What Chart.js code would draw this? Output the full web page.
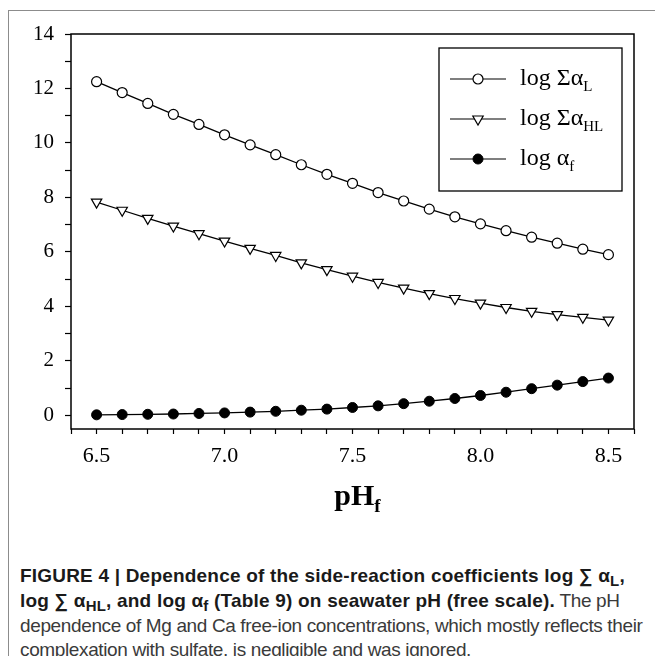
<!DOCTYPE html>
<html>
<head>
<meta charset="utf-8">
<script src="https://cdn.jsdelivr.net/npm/chart.js@4.4.0/dist/chart.umd.min.js"></script>
<style>
  html, body { margin: 0; padding: 0; background: #fff; }
  body { width: 655px; height: 656px; position: relative; overflow: hidden; }
  #frame { position: absolute; left: 8px; top: 10px; width: 700px; height: 700px;
           border-left: 1.5px solid #8c8c8c; border-top: 1.5px solid #8c8c8c; }
  #chart-wrap { position: absolute; left: 0; top: 0; width: 655px; height: 530px; }
  #xtitle { position: absolute; left: 71px; width: 573px; top: 478px; text-align: center;
            font: bold 30px "Liberation Serif"; color: #000; }
  #xtitle .sub { font-size: 19px; position: relative; top: 7px; }
  #caption { position: absolute; left: 20px; top: 564px; width: 660px; white-space: nowrap;
             font: 19px/24px "Liberation Sans"; color: #3a3a3a; letter-spacing: -0.37px; }
  #caption b { color: #1a1a1a; letter-spacing: 0.2px; }
  #caption .sub { font-size: 15px; position: relative; top: 4px; }
</style>
</head>
<body>
<div id="frame"></div>
<div id="chart-wrap"><canvas id="chart" width="655" height="530"></canvas></div>
<div id="xtitle">pH<span class="sub">f</span></div>
<div id="caption"><b>FIGURE 4 | Dependence of the side-reaction coefficients log ∑ α<span class="sub">L</span>,</b><br><b>log ∑ α<span class="sub">HL</span>, and log α<span class="sub">f</span> (Table 9) on seawater pH (free scale).</b> The pH<br>dependence of Mg and Ca free-ion concentrations, which mostly reflects their<br>complexation with sulfate, is negligible and was ignored.</div>
<script>
// 数据
const phValues = [6.5, 6.6, 6.7, 6.8, 6.9, 7.0, 7.1, 7.2, 7.3, 7.4, 7.5,
                  7.6, 7.7, 7.8, 7.9, 8.0, 8.1, 8.2, 8.3, 8.4, 8.5];
const logSumAlphaL = [12.25, 11.85, 11.45, 11.05, 10.68, 10.3, 9.93, 9.57, 9.2, 8.85, 8.52,
                      8.18, 7.87, 7.57, 7.29, 7.03, 6.78, 6.54, 6.32, 6.1, 5.9];
const logSumAlphaHL = [7.83, 7.53, 7.23, 6.95, 6.67, 6.4, 6.13, 5.87, 5.6, 5.35, 5.11,
                       4.88, 4.67, 4.47, 4.29, 4.12, 3.96, 3.82, 3.7, 3.6, 3.5];
const logAlphaF = [0.02, 0.03, 0.04, 0.05, 0.07, 0.09, 0.12, 0.15, 0.19, 0.23, 0.29,
                   0.35, 0.43, 0.52, 0.62, 0.73, 0.85, 0.98, 1.11, 1.24, 1.37];
const xTickLabels = ['6.5', '7.0', '7.5', '8.0', '8.5'];
const yTickLabels = ['0', '2', '4', '6', '8', '10', '12', '14'];

// 图例文字 (主文字 + 下标)
const legendText = [['log Σα', 'L'], ['log Σα', 'HL'], ['log α', 'f']];

function toPoints(arr) {
  return phValues.map((x, i) => ({ x: x, y: arr[i] }));
}

const serif = '"Liberation Serif", "Times New Roman", serif';

// 绘图区边框
const framePlugin = {
  id: 'frame',
  beforeDatasetsDraw(chart) {
    const a = chart.chartArea, ctx = chart.ctx;
    ctx.save();
    ctx.strokeStyle = '#000';
    ctx.lineWidth = 1.5;
    ctx.strokeRect(a.left, a.top, a.right - a.left, a.bottom - a.top);
    ctx.restore();
  }
};

function drawMarker(ctx, ds, x, y) {
  ctx.save();
  ctx.fillStyle = ds.pointBackgroundColor;
  ctx.strokeStyle = ds.pointBorderColor;
  ctx.lineWidth = ds.pointBorderWidth;
  ctx.beginPath();
  if (ds.pointStyle === 'triangle') {
    const r = ds.pointRadius;
    ctx.moveTo(x - r * 0.866, y - r * 0.5);
    ctx.lineTo(x + r * 0.866, y - r * 0.5);
    ctx.lineTo(x, y + r);
    ctx.closePath();
  } else {
    ctx.arc(x, y, ds.pointRadius, 0, Math.PI * 2);
  }
  ctx.fill();
  ctx.stroke();
  ctx.restore();
}

// 自定义图例 (带下标)
const legendPlugin = {
  id: 'subLegend',
  afterDraw(chart) {
    const a = chart.chartArea, ctx = chart.ctx;
    const boxW = 183, boxH = 143;
    const bx = a.right - 12 - boxW, by = a.top + 14;
    ctx.save();
    ctx.strokeStyle = '#000';
    ctx.lineWidth = 1.3;
    ctx.strokeRect(bx, by, boxW, boxH);
    chart.data.datasets.forEach((ds, i) => {
      const y = by + 31 + i * 40;
      ctx.strokeStyle = '#000';
      ctx.lineWidth = 1.2;
      ctx.beginPath();
      ctx.moveTo(bx + 11, y);
      ctx.lineTo(bx + 67, y);
      ctx.stroke();
      drawMarker(ctx, ds, bx + 39, y);
      ctx.fillStyle = '#000';
      ctx.textBaseline = 'alphabetic';
      ctx.font = '24px ' + serif;
      const main = legendText[i][0];
      const tx = bx + 81;
      ctx.fillText(main, tx, y + 6);
      const w = ctx.measureText(main).width;
      ctx.font = '15px ' + serif;
      ctx.fillText(legendText[i][1], tx + w, y + 12);
    });
    ctx.restore();
  }
};

new Chart(document.getElementById('chart'), {
  type: 'line',
  data: {
    datasets: [{
      label: 'log Σα_L',
      data: toPoints(logSumAlphaL),
      borderColor: '#000', borderWidth: 1.3,
      pointStyle: 'circle', pointRadius: 5, pointBorderWidth: 1.2,
      pointBackgroundColor: '#fff', pointBorderColor: '#000'
    }, {
      label: 'log Σα_HL',
      data: toPoints(logSumAlphaHL),
      borderColor: '#000', borderWidth: 1.3,
      pointStyle: 'triangle', pointRotation: 180, pointRadius: 6, pointBorderWidth: 1.2,
      pointBackgroundColor: '#fff', pointBorderColor: '#000'
    }, {
      label: 'log α_f',
      data: toPoints(logAlphaF),
      borderColor: '#000', borderWidth: 1.3,
      pointStyle: 'circle', pointRadius: 5, pointBorderWidth: 1,
      pointBackgroundColor: '#000', pointBorderColor: '#000'
    }]
  },
  options: {
    responsive: false,
    animation: false,
    devicePixelRatio: 1,
    layout: { padding: { top: 34, right: 21, left: 0, bottom: 0 } },
    plugins: { legend: { display: false }, tooltip: { enabled: false } },
    scales: {
      x: {
        type: 'linear', min: 6.4, max: 8.6,
        border: { display: false },
        grid: { drawOnChartArea: false, drawTicks: true, tickLength: 5, tickColor: '#000', tickWidth: 1.2 },
        ticks: {
          stepSize: 0.1, autoSkip: false, maxRotation: 0, padding: 9,
          color: '#000', font: { family: serif, size: 22 },
          callback: (v) => {
            const s = v.toFixed(1);
            return xTickLabels.includes(s) ? s : '';
          }
        },
        afterFit: (scale) => { scale.height = 101; }
      },
      y: {
        min: -0.5, max: 14,
        border: { display: false },
        grid: { drawOnChartArea: false, drawTicks: true, tickLength: 6, tickColor: '#000', tickWidth: 1.2 },
        ticks: {
          stepSize: 1, includeBounds: false, padding: 11,
          color: '#000', font: { family: serif, size: 21 },
          callback: (v) => {
            const s = String(Math.round(v));
            return yTickLabels.includes(s) ? s : '';
          }
        },
        afterFit: (scale) => { scale.width = 71; }
      }
    }
  },
  plugins: [framePlugin, legendPlugin]
});
</script>
</body>
</html>
